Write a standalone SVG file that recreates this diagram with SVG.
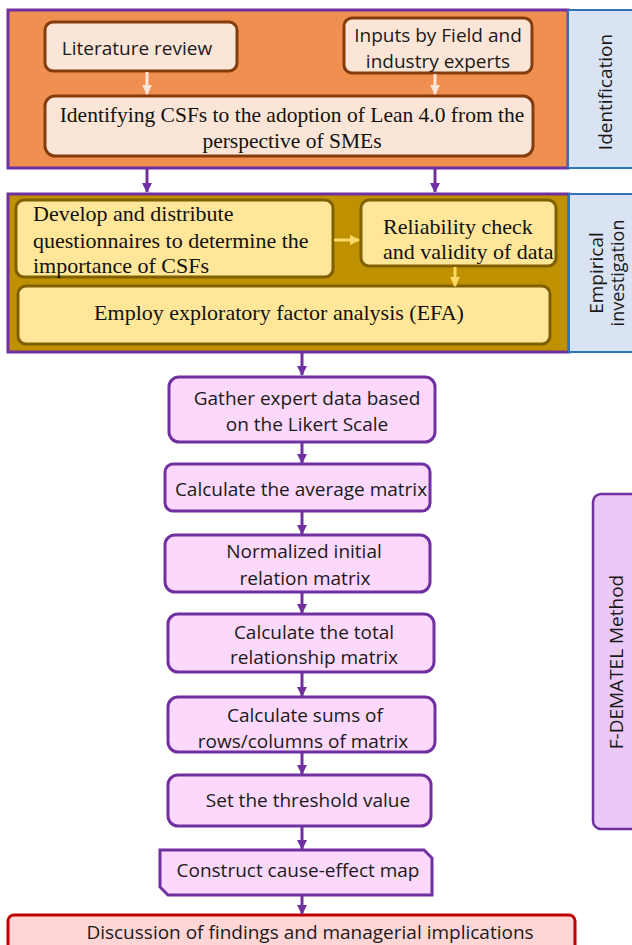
<svg xmlns="http://www.w3.org/2000/svg" width="632" height="945" viewBox="0 0 632 945">
<defs>
<style>
.sans{font-family:"Open Sans","Liberation Sans",sans-serif;fill:#1a1a1a;font-size:19px}
.serif{font-family:"Liberation Serif","Times New Roman",serif;fill:#111;font-size:22px}
.step{fill:#fcd8fc;stroke:#7030a0;stroke-width:3}
.flow{stroke:#7030a0;stroke-width:3;fill:none}
.lt{stroke:#fbe5d6;stroke-width:3;fill:none}
.yl{stroke:#ffd966;stroke-width:3;fill:none}
.peach{fill:#fbe5d6;stroke:#843c0c;stroke-width:3}
.yel{fill:#ffe699;stroke:#7f6000;stroke-width:3}
.side{fill:#dae3f3;stroke:#2e75b6;stroke-width:2}
</style>
<marker id="ap" viewBox="0 0 10 10" refX="9" refY="5" markerWidth="3.5" markerHeight="3.5" orient="auto" markerUnits="strokeWidth"><path d="M0,0 L10,5 L0,10 z" fill="#7030a0"/></marker>
<marker id="al" viewBox="0 0 10 10" refX="9" refY="5" markerWidth="3.5" markerHeight="3.5" orient="auto" markerUnits="strokeWidth"><path d="M0,0 L10,5 L0,10 z" fill="#fbe5d6"/></marker>
<marker id="ay" viewBox="0 0 10 10" refX="9" refY="5" markerWidth="3.5" markerHeight="3.5" orient="auto" markerUnits="strokeWidth"><path d="M0,0 L10,5 L0,10 z" fill="#ffd966"/></marker>
</defs>

<g id="identification">
<rect x="8" y="10" width="560" height="158" fill="#f09050" stroke="#7030a0" stroke-width="3"/>
<rect x="568" y="10" width="66" height="158" class="side"/>
<text class="sans" transform="translate(612,92) rotate(-90)" text-anchor="middle">Identification</text>
</g>
<g id="lit">
<rect x="45" y="22" width="192" height="49" rx="8" class="peach"/>
<text class="sans" x="137" y="55" text-anchor="middle">Literature review</text>
</g>
<g id="inputs">
<rect x="344" y="18" width="188" height="55" rx="8" class="peach"/>
<text class="sans" x="438" y="42" text-anchor="middle">Inputs by Field and</text>
<text class="sans" x="438" y="68" text-anchor="middle">industry experts</text>
</g>
<g id="identify">
<rect x="45" y="96" width="488" height="60" rx="10" class="peach"/>
<text class="serif" x="292" y="122" text-anchor="middle" style="font-size:21.5px">Identifying CSFs to the adoption of Lean 4.0 from the</text>
<text class="serif" x="292" y="148" text-anchor="middle" style="font-size:21.5px">perspective of  SMEs</text>
</g>

<g id="empirical">
<rect x="8" y="194" width="561" height="158" fill="#bf9000" stroke="#7030a0" stroke-width="3"/>
<rect x="569" y="194" width="66" height="158" class="side"/>
<text class="sans" transform="translate(603,273) rotate(-90)" text-anchor="middle">Empirical</text>
<text class="sans" transform="translate(624,273) rotate(-90)" text-anchor="middle" style="font-size:18px">investigation</text>
</g>
<g id="develop">
<rect x="16" y="200" width="317" height="77" rx="8" class="yel"/>
<text class="serif" x="33" y="221">Develop and distribute</text>
<text class="serif" x="33" y="248">questionnaires to determine the</text>
<text class="serif" x="33" y="273">importance of CSFs</text>
</g>
<g id="reliability">
<rect x="361" y="200" width="195" height="66" rx="8" class="yel"/>
<text class="serif" x="383" y="234">Reliability check</text>
<text class="serif" x="383" y="259">and validity of data</text>
</g>
<g id="efa">
<rect x="18" y="286" width="532" height="58" rx="8" class="yel"/>
<text class="serif" x="279" y="320" text-anchor="middle">Employ exploratory factor analysis (EFA)</text>
</g>

<g id="gather">
<rect x="169" y="377" width="266" height="65" rx="10" class="step"/>
<text class="sans" x="307" y="405" text-anchor="middle">Gather expert data based</text>
<text class="sans" x="307" y="431" text-anchor="middle">on the Likert Scale</text>
</g>
<g id="average">
<rect x="165" y="464" width="265" height="47" rx="8" class="step"/>
<text class="sans" x="301" y="496" text-anchor="middle">Calculate the average matrix</text>
</g>
<g id="normalized">
<rect x="165" y="535" width="265" height="57" rx="10" class="step"/>
<text class="sans" x="304" y="558" text-anchor="middle">Normalized initial</text>
<text class="sans" x="305" y="585" text-anchor="middle">relation matrix</text>
</g>
<g id="total">
<rect x="168" y="614" width="266" height="58" rx="10" class="step"/>
<text class="sans" x="314" y="639" text-anchor="middle">Calculate the total</text>
<text class="sans" x="314" y="664" text-anchor="middle">relationship matrix</text>
</g>
<g id="sums">
<rect x="168" y="697" width="267" height="55" rx="10" class="step"/>
<text class="sans" x="305" y="722" text-anchor="middle">Calculate sums of</text>
<text class="sans" x="303" y="748" text-anchor="middle">rows/columns of matrix</text>
</g>
<g id="threshold">
<rect x="168" y="775" width="263" height="51" rx="10" class="step"/>
<text class="sans" x="308" y="807" text-anchor="middle">Set the threshold value</text>
</g>
<g id="construct">
<path d="M160,850 H424 L432,858 V895 H168 L160,887 Z" class="step"/>
<text class="sans" x="298" y="877" text-anchor="middle">Construct cause-effect map</text>
</g>
<g id="discussion">
<rect x="8" y="915" width="567" height="40" rx="6" fill="#ffd5d5" stroke="#c00000" stroke-width="3"/>
<text class="sans" x="310" y="939" text-anchor="middle">Discussion of findings and managerial implications</text>
</g>
<g id="fdematel">
<rect x="593" y="494" width="50" height="335" rx="8" fill="#ebc9f7" stroke="#7030a0" stroke-width="2.5"/>
<text class="sans" transform="translate(623,662) rotate(-90)" text-anchor="middle">F-DEMATEL Method</text>
</g>

<g id="connectors">
<line x1="147" y1="72" x2="147" y2="94" class="lt" marker-end="url(#al)"/>
<line x1="435" y1="74" x2="435" y2="94" class="lt" marker-end="url(#al)"/>
<line x1="147" y1="169" x2="147" y2="192" class="flow" marker-end="url(#ap)"/>
<line x1="435" y1="169" x2="435" y2="192" class="flow" marker-end="url(#ap)"/>
<line x1="334" y1="240" x2="359" y2="240" class="yl" marker-end="url(#ay)"/>
<line x1="455" y1="267" x2="455" y2="286" class="yl" marker-end="url(#ay)"/>
<line x1="302" y1="353" x2="302" y2="375" class="flow" marker-end="url(#ap)"/>
<line x1="302" y1="443" x2="302" y2="463" class="flow" marker-end="url(#ap)"/>
<line x1="302" y1="512" x2="302" y2="534" class="flow" marker-end="url(#ap)"/>
<line x1="302" y1="593" x2="302" y2="613" class="flow" marker-end="url(#ap)"/>
<line x1="302" y1="673" x2="302" y2="696" class="flow" marker-end="url(#ap)"/>
<line x1="302" y1="753" x2="302" y2="774" class="flow" marker-end="url(#ap)"/>
<line x1="302" y1="827" x2="302" y2="849" class="flow" marker-end="url(#ap)"/>
<line x1="302" y1="896" x2="302" y2="914" class="flow" marker-end="url(#ap)"/>
</g>
</svg>
